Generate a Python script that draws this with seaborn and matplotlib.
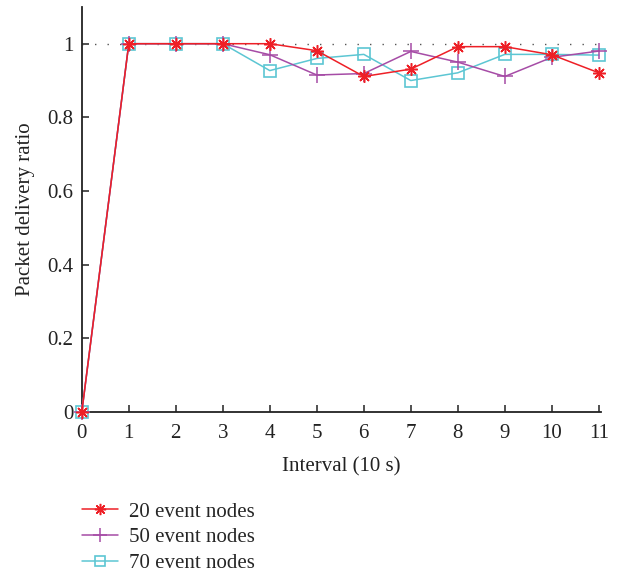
import matplotlib
matplotlib.use("Agg")
import matplotlib.pyplot as plt
import seaborn as sns
import pandas as pd

# Interval index (units of 10 s)
intervals = [0, 1, 2, 3, 4, 5, 6, 7, 8, 9, 10, 11]

# Packet delivery ratio per interval for each event-node count
pdr_20 = [0.0, 1.0, 1.0, 1.0, 1.0, 0.981, 0.911, 0.931, 0.992, 0.992, 0.970, 0.921]
pdr_50 = [0.0, 1.0, 1.0, 1.0, 0.970, 0.915, 0.919, 0.979, 0.950, 0.911, 0.963, 0.980]
pdr_70 = [0.0, 1.0, 1.0, 1.0, 0.927, 0.960, 0.971, 0.900, 0.921, 0.971, 0.971, 0.969]

series_labels = ["20 event nodes", "50 event nodes", "70 event nodes"]
y_ticks = [0, 0.2, 0.4, 0.6, 0.8, 1]
y_tick_labels = ["0", "0.2", "0.4", "0.6", "0.8", "1"]

df = pd.DataFrame({
    "interval": intervals * 3,
    "pdr": pdr_20 + pdr_50 + pdr_70,
    "series": sum([[s] * len(intervals) for s in series_labels], []),
})

sns.set_style("ticks")
plt.rcParams["font.family"] = ["Liberation Serif", "DejaVu Serif"]
FS = 15

fig = plt.figure(figsize=(6.22, 5.73), dpi=100)
ax = fig.add_axes([0.1315, 0.281, 0.835, 0.707])

# reference line at full delivery
ax.axhline(1.0, xmin=0, xmax=1, color="#555555", linestyle=(0, (1, 8)),
           linewidth=1.0, zorder=1)

styles = {
    "20 event nodes": dict(color="#ee1f26", marker=(8, 2, 0), markersize=9,
                           markeredgewidth=1.1, zorder=5),
    "50 event nodes": dict(color="#a64ca6", marker="+", markersize=11,
                           markeredgewidth=1.1, zorder=4),
    "70 event nodes": dict(color="#5cc6d3", marker="s", markersize=8,
                           markerfacecolor="none", markeredgewidth=1.2, zorder=3),
}

for name in series_labels:
    sub = df[df["series"] == name]
    st = styles[name]
    sns.lineplot(data=sub, x="interval", y="pdr", ax=ax, color=st["color"],
                 marker=st["marker"], markersize=st["markersize"],
                 markeredgewidth=st["markeredgewidth"],
                 markerfacecolor=st.get("markerfacecolor", st["color"]),
                 markeredgecolor=st["color"], linewidth=1.1,
                 zorder=st["zorder"], label=name, legend=False, clip_on=False)

ax.set_xlim(0, 11.05)
ax.set_ylim(0, 1.1)
ax.set_xticks(intervals)
ax.set_yticks(y_ticks)
ax.set_yticklabels(y_tick_labels)
ax.tick_params(direction="in", length=5, width=1.1, colors="#222222",
               labelsize=FS, labelcolor="#222222")
ax.tick_params(axis="x", pad=9)
ax.tick_params(axis="y", pad=6)
for side in ("top", "right"):
    ax.spines[side].set_visible(False)
for side in ("left", "bottom"):
    ax.spines[side].set_linewidth(1.3)
    ax.spines[side].set_color("#222222")

ax.set_xlabel("Interval (10 s)", fontsize=FS, color="#222222", labelpad=10)
ax.set_ylabel("Packet delivery ratio", fontsize=FS, color="#222222", labelpad=9)

handles = []
for name in series_labels:
    st = styles[name]
    (h,) = ax.plot([], [], color=st["color"], marker=st["marker"],
                   markersize=st["markersize"] * 0.9,
                   markeredgewidth=st["markeredgewidth"],
                   markerfacecolor=st.get("markerfacecolor", st["color"]),
                   markeredgecolor=st["color"], linewidth=1.1, label=name)
    handles.append(h)

fig.legend(handles=handles, labels=series_labels, loc="upper left",
           bbox_to_anchor=(0.132, 0.124), frameon=False, fontsize=FS,
           handlelength=1.7, handletextpad=0.55, labelspacing=0.3,
           borderaxespad=0, borderpad=0)

fig.savefig("out.png", dpi=100, facecolor="white")
